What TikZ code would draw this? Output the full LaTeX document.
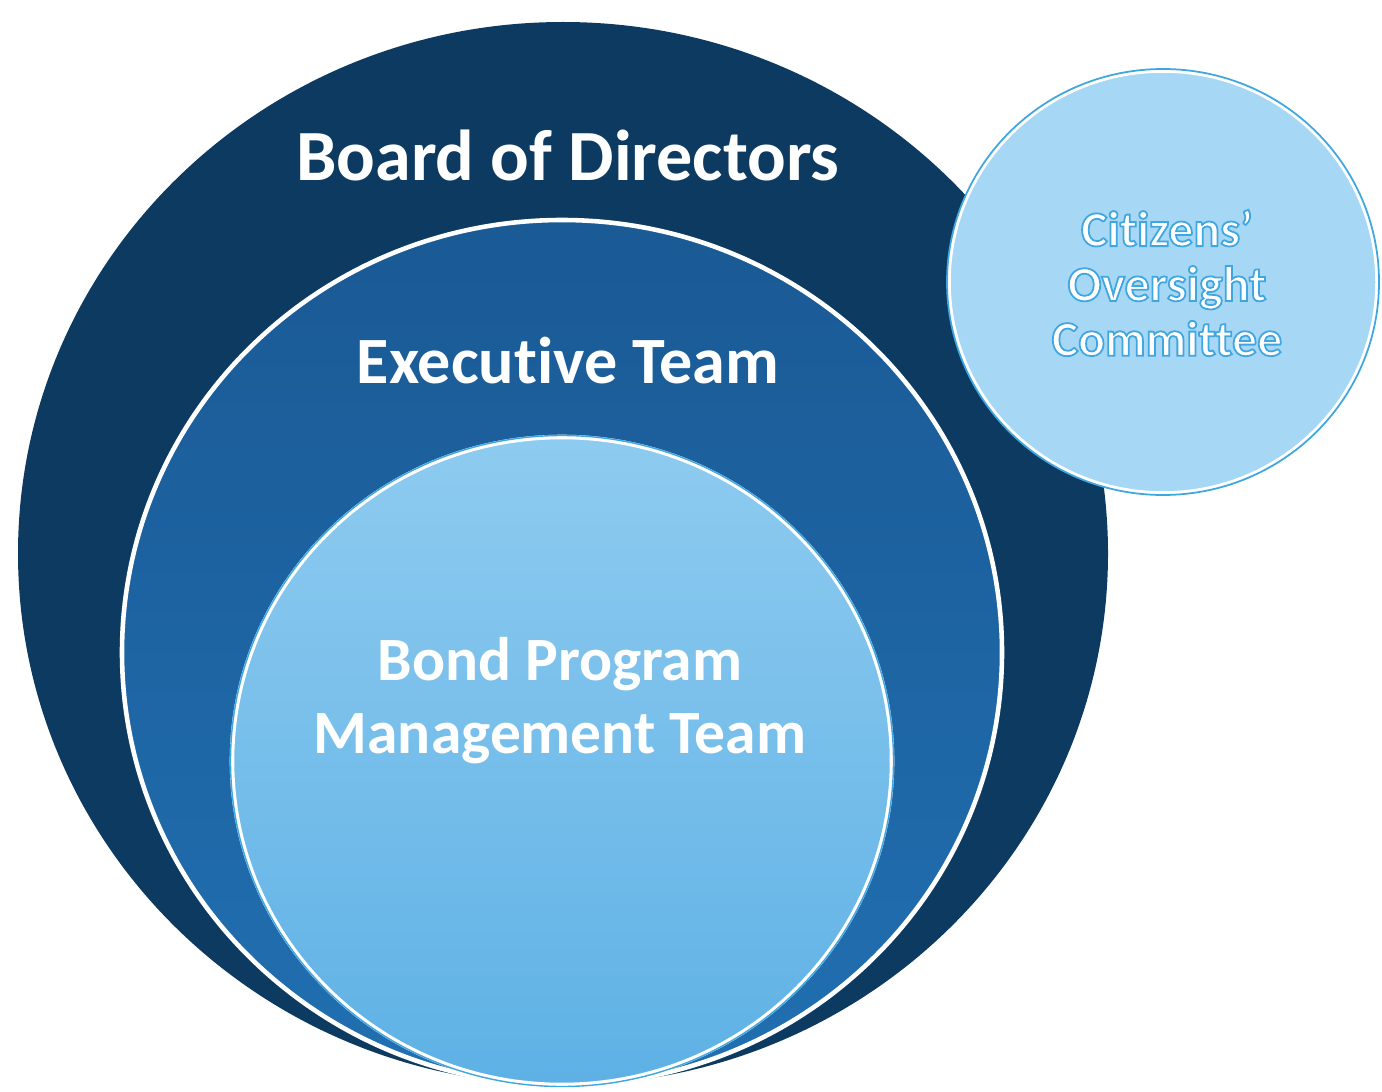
\documentclass[tikz,border=0pt]{standalone}
\usepackage{fontspec}
\setmainfont{Carlito}[Ligatures=NoCommon]
\definecolor{boardblue}{HTML}{0D3A60}
\definecolor{exectop}{HTML}{1A5A95}
\definecolor{execbot}{HTML}{216FB1}
\definecolor{bondtop}{HTML}{8ECBF0}
\definecolor{bondbot}{HTML}{5EB1E5}
\definecolor{citizenfill}{HTML}{A6D7F5}
\definecolor{citizenedge}{HTML}{3FA7E0}
% weisse Schrift mit blauem Rand
\newcommand{\bluerim}[1]{\special{pdf:literal direct 0.5 w 0.25 0.65 0.88 RG 2 Tr}#1\special{pdf:literal direct 0 Tr}}
\tikzset{
	ring/.style={draw=white, line width=1.3pt},
	lbl/.style={text=white, font=\bfseries, align=center, inner sep=0pt}
}
\begin{document}
\begin{tikzpicture}[x=0.01cm, y=-0.01cm]
	\useasboundingbox (0,0) rectangle (1382,1091);
	\fill[boardblue] (563,553.5) ellipse (545 and 531.5);%aeusserer Kreis
	\shade[top color=exectop, bottom color=execbot, ring] (562,652.5) ellipse (440 and 432.5);%mittlerer Kreis
	\shade[top color=bondtop, bottom color=bondbot, ring] (562,761) ellipse (330 and 324);%innerer Kreis
	\draw[citizenedge, line width=0.4pt] (562,761) ellipse (331.5 and 325.5);
	\fill[citizenfill] (1163,282) ellipse (216 and 213);%Kreis rechts oben
	\draw[white, line width=1pt] (1163,282) ellipse (214 and 211);
	\draw[citizenedge, line width=0.5pt] (1163,282) ellipse (216 and 213);

	%%%%%%
	%Beschriftung
	\node[lbl, font=\fontsize{20.5}{24}\selectfont\bfseries] (board) at (568,155) {Board of Directors};
	\node[lbl, font=\fontsize{18.8}{21}\selectfont\bfseries] (exec) at (568,361) {Executive Team};
	\node[lbl, font=\fontsize{17.5}{20.7}\selectfont\bfseries] (bond) at (560,701) {Bond Program\\Management Team};
	\node[lbl, font=\fontsize{14.2}{15.6}\selectfont\bfseries] (citizens) at (1167,283) {\bluerim{Citizens’}\\\bluerim{Oversight}\\\bluerim{Committee}};
\end{tikzpicture}
\end{document}
